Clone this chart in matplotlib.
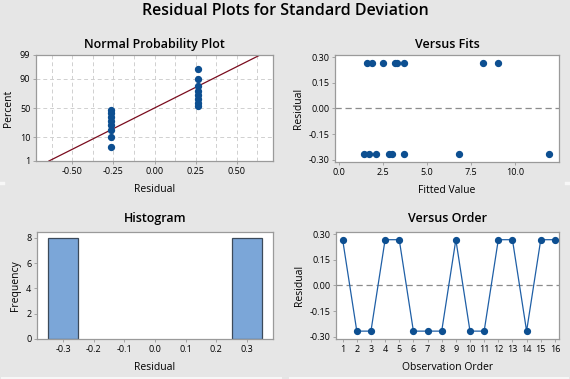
import numpy as np
import matplotlib.pyplot as plt
from statistics import NormalDist

# residuals in observation order and their fitted values
obs_order = list(range(1, 17))
residuals = [0.267, -0.267, -0.267, 0.267, 0.267, -0.267, -0.267, -0.267,
             0.267, -0.267, -0.267, 0.267, 0.267, -0.267, 0.267, 0.267]
fitted = [1.59, 1.42, 1.71, 1.84, 2.50, 2.11, 2.81, 2.98,
          3.17, 3.68, 6.81, 3.28, 3.68, 11.95, 8.20, 9.05]

hist_centers = [-0.3, 0.3]
hist_counts = [8, 8]

prob_ticks = [1, 10, 50, 90, 99]

bg = '#e6e6e6'
dot = '#0d4f91'
spine = '#9a9a9a'
plt.rcParams['font.family'] = ['Open Sans', 'DejaVu Sans']

nd = NormalDist()
_ppf = np.vectorize(lambda v: nd.inv_cdf(v / 100.0), otypes=[float])
_cdf = np.vectorize(lambda v: nd.cdf(v) * 100.0, otypes=[float])


def fwd(p):
    p = np.clip(np.asarray(p, dtype=float), 0.01, 99.99)
    return _ppf(p)


def inv(z):
    return _cdf(np.asarray(z, dtype=float))


def style(ax):
    ax.set_facecolor('white')
    for s in ax.spines.values():
        s.set_color(spine)
        s.set_linewidth(0.9)
    ax.tick_params(labelsize=6.5, length=2.5, width=0.6, color=spine, pad=1.5)


fig = plt.figure(figsize=(5.7, 3.79), dpi=100)
fig.patch.set_facecolor(bg)
W, H = 570, 379


def add_axes(x0, x1, y0, y1):
    return fig.add_axes([x0 / W, 1 - y1 / H, (x1 - x0) / W, (y1 - y0) / H])


fig.text(0.5, 1 - 11 / H, 'Residual Plots for Standard Deviation', ha='center', va='center',
         fontsize=11.5, fontweight='semibold')

# light panel separators at the bottom / sides
for xa, xb in [(2, 281), (290, 568)]:
    fig.add_artist(plt.Line2D([xa / W, xb / W], [1.5 / H, 1.5 / H], color='#f7f7f7', lw=1.5))
for xa, xb in [(0, 3), (566, 570)]:
    fig.add_artist(plt.Line2D([xa / W, xb / W], [1 - 183 / H, 1 - 183 / H], color='#f7f7f7', lw=2.5))

# Normal probability plot
ax1 = add_axes(36, 273, 55, 161)
style(ax1)
ax1.set_yscale('function', functions=(fwd, inv))
n = len(residuals)
srt = np.sort(residuals)
ranks = np.arange(1, n + 1)
pct = (ranks - 0.3) / (n + 0.4) * 100
mu = np.mean(residuals)
sd = np.std(residuals, ddof=1)
xl = [mu + sd * nd.inv_cdf(0.01), mu + sd * nd.inv_cdf(0.99)]
ax1.plot(xl, [1, 99], color='#7a0c1e', lw=0.9, zorder=2)
ax1.scatter(srt, pct, s=18, color=dot, zorder=3)
ax1.set_ylim(1, 99)
ax1.set_xlim(-0.72, 0.72)
ax1.set_yticks(prob_ticks)
ax1.set_yticklabels([str(v) for v in prob_ticks])
ax1.minorticks_off()
ax1.set_xticks([-0.5, -0.25, 0.0, 0.25, 0.5])
ax1.set_xticklabels(['-0.50', '-0.25', '0.00', '0.25', '0.50'])
for gx in np.arange(-0.625, 0.63, 0.125):
    ax1.axvline(gx, color='#d0d0d0', lw=0.7, ls=(0, (4, 3)), zorder=1)
for gy in [10, 50, 90]:
    ax1.axhline(gy, color='#d0d0d0', lw=0.7, ls=(0, (4, 3)), zorder=1)
ax1.set_title('Normal Probability Plot', fontsize=9, fontweight='semibold', pad=5)
ax1.set_xlabel('Residual', fontsize=7.5, labelpad=6)
ax1.set_ylabel('Percent', fontsize=7.5, labelpad=4)

# Versus fits
ax2 = add_axes(335, 559, 55, 162)
style(ax2)
ax2.axhline(0, color='#8c8c8c', lw=0.9, ls=(0, (5, 3)), zorder=1)
ax2.scatter(fitted, residuals, s=18, color=dot, zorder=3)
ax2.set_xlim(-0.25, 12.5)
ax2.set_ylim(-0.313, 0.312)
ax2.set_xticks([0, 2.5, 5, 7.5, 10])
ax2.set_xticklabels(['0.0', '2.5', '5.0', '7.5', '10.0'])
ax2.set_yticks([-0.3, -0.15, 0, 0.15, 0.3])
ax2.set_yticklabels(['-0.30', '-0.15', '0.00', '0.15', '0.30'])
ax2.set_title('Versus Fits', fontsize=9, fontweight='semibold', pad=5)
ax2.set_xlabel('Fitted Value', fontsize=7.5, labelpad=6)
ax2.set_ylabel('Residual', fontsize=7.5, labelpad=3)

# Histogram
ax3 = add_axes(37, 273, 232, 339)
style(ax3)
ax3.bar(hist_centers, hist_counts, width=0.1, color='#7ba6d8', edgecolor='#3c4a5a', linewidth=0.9)
ax3.set_xlim(-0.385, 0.385)
ax3.set_ylim(0, 8.47)
ax3.set_xticks([-0.3, -0.2, -0.1, 0.0, 0.1, 0.2, 0.3])
ax3.set_xticklabels(['-0.3', '-0.2', '-0.1', '0.0', '0.1', '0.2', '0.3'])
ax3.set_yticks([0, 2, 4, 6, 8])
ax3.set_title('Histogram', fontsize=9, fontweight='semibold', pad=7)
ax3.set_xlabel('Residual', fontsize=7.5, labelpad=6)
ax3.set_ylabel('Frequency', fontsize=7.5, labelpad=4)

# Versus order
ax4 = add_axes(336, 559, 232, 339)
style(ax4)
ax4.axhline(0, color='#8c8c8c', lw=0.9, ls=(0, (5, 3)), zorder=1)
ax4.plot(obs_order, residuals, color='#1f5fa6', lw=0.9, marker='o', ms=4.2,
         mfc=dot, mec=dot, zorder=3)
ax4.set_xlim(0.53, 16.29)
ax4.set_ylim(-0.313, 0.312)
ax4.set_xticks(obs_order)
ax4.set_yticks([-0.3, -0.15, 0, 0.15, 0.3])
ax4.set_yticklabels(['-0.30', '-0.15', '0.00', '0.15', '0.30'])
ax4.set_title('Versus Order', fontsize=9, fontweight='semibold', pad=7)
ax4.set_xlabel('Observation Order', fontsize=7.5, labelpad=6)
ax4.set_ylabel('Residual', fontsize=7.5, labelpad=3)

fig.savefig('out.png', dpi=100, facecolor=bg)
